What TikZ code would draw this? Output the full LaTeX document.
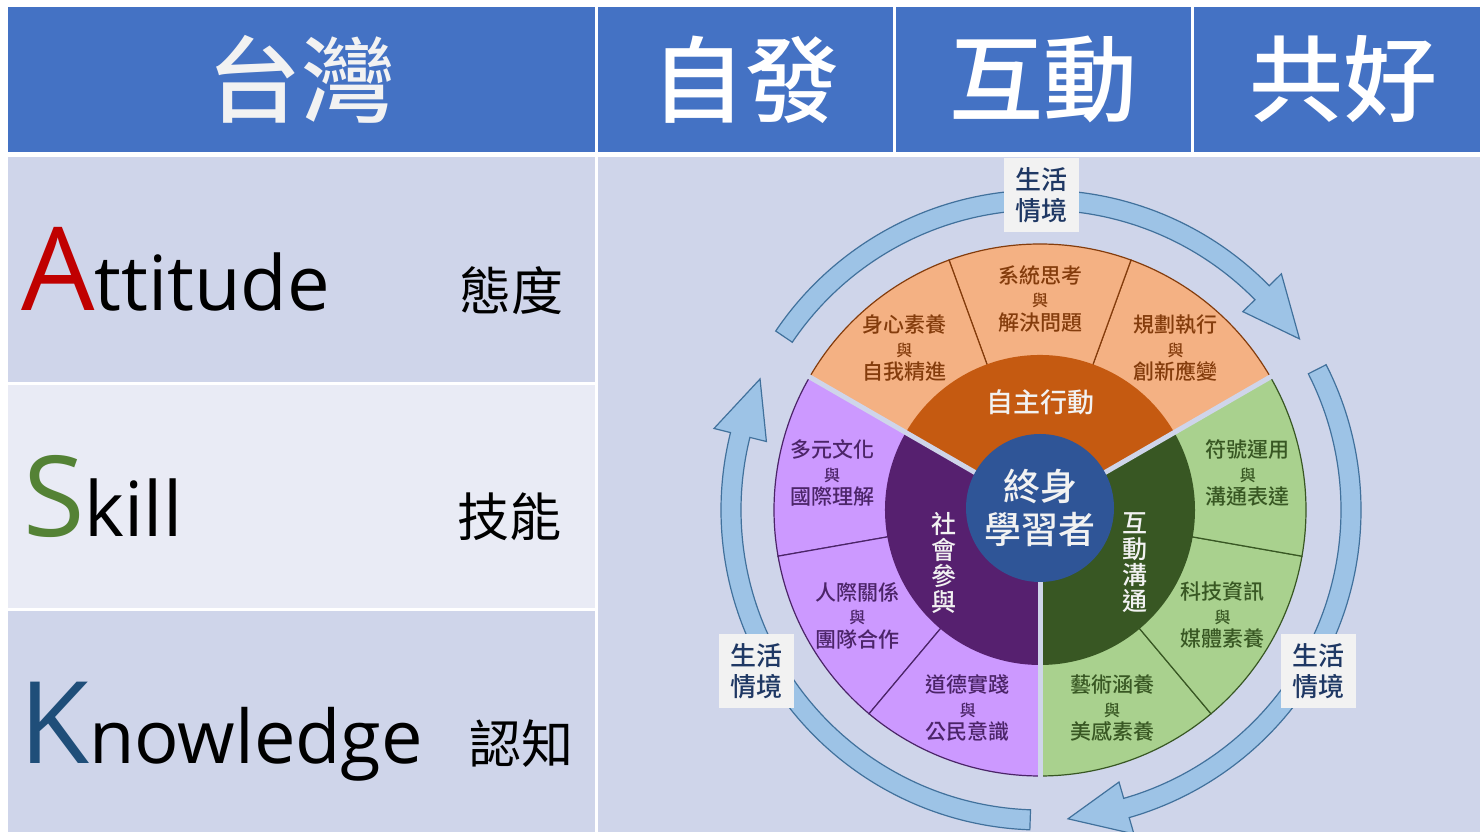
\documentclass[tikz,border=0pt]{standalone}
\usepackage{fontspec}
\usepackage{tikz}
\setmainfont{Open Sans}
\newfontfamily\cjk{Noto Sans CJK TC}
\newfontfamily\cjkmed{Noto Sans CJK TC Medium}
\definecolor{head}{HTML}{4472C4}
\definecolor{rowdark}{HTML}{CFD5EA}
\definecolor{rowlight}{HTML}{E9EBF5}
\definecolor{arrowfill}{HTML}{9DC3E6}
\definecolor{arrowline}{HTML}{41719C}
\definecolor{orangeout}{HTML}{F4B183}
\definecolor{orangein}{HTML}{C55A11}
\definecolor{orangetxt}{HTML}{843C0C}
\definecolor{purpleout}{HTML}{CC99FF}
\definecolor{purplein}{HTML}{56206F}
\definecolor{purpletxt}{HTML}{4B2468}
\definecolor{greenout}{HTML}{A9D18E}
\definecolor{greenin}{HTML}{385723}
\definecolor{greentxt}{HTML}{385723}
\definecolor{core}{HTML}{2F5597}
\definecolor{navy}{HTML}{1F3864}
\definecolor{boxfill}{HTML}{F2F2F2}
\definecolor{aRed}{HTML}{C00000}
\definecolor{sGreen}{HTML}{548235}
\definecolor{kBlue}{HTML}{1F4E79}
\tikzstyle{headcell}=[fill=head, text=white, minimum height=145, inner sep=0, font=\cjkmed\fontsize{94}{94}\selectfont]
\tikzstyle{zhword}=[inner sep=0, font=\cjk\fontsize{52}{52}\selectfont]
\tikzstyle{life}=[fill=boxfill, text=navy, minimum width=75, minimum height=74, inner sep=0, align=center, font=\cjkmed\fontsize{26}{31}\selectfont]
\tikzstyle{outer}=[align=center, inner sep=0, font=\cjkmed\fontsize{21}{23.5}\selectfont]
\tikzstyle{inner}=[align=center, inner sep=0, text=boxfill, font=\cjkmed\fontsize{25}{26}\selectfont]
\tikzstyle{ring arrow}=[fill=arrowfill, draw=arrowline, line width=1.2pt, line join=miter]

\begin{document}
\begin{tikzpicture}[x=1pt, y=1pt]
\clip (0,0) rectangle (1480,832);
\fill[white] (0,0) rectangle (1480,832);
\node[headcell, minimum width=587, text=boxfill] (taiwan) at (301.5,752.5) {台灣};
\node[headcell, minimum width=295] (spont) at (745.5,752.5) {自發};
\node[headcell, minimum width=295] (interact) at (1043.5,752.5) {互動};
\node[headcell, minimum width=298] (common) at (1343,752.5) {共好};
\fill[rowdark] (8,450) rectangle (595,675);
\fill[rowlight] (8,224) rectangle (595,447);
\fill[rowdark] (8,0) rectangle (595,221);
\fill[rowdark] (598,0) rectangle (1480,675);
\node[anchor=base west, inner sep=0] (attitude) at (21,521) {\fontsize{116}{116}\selectfont\color{aRed}A\color{black}\fontsize{76}{76}\selectfont ttitude};
\node[anchor=base west, inner sep=0] (skill) at (23,295) {\fontsize{112}{112}\selectfont\color{sGreen}S\color{black}\fontsize{76}{76}\selectfont kill};
\node[anchor=base west, inner sep=0] (knowledge) at (19,68) {\fontsize{114}{114}\selectfont\color{kBlue}K\color{black}\fontsize{74}{74}\selectfont nowledge};
\node[zhword] (attitude-zh) at (511,541.5) {態度};
\node[zhword] (skill-zh) at (509.5,315.5) {技能};
\node[zhword] (knowledge-zh) at (521,88) {認知};
\begin{scope}[shift={(1041,322)}]
  \foreach \tailang/\tipang in {146/33.5, 27/-85, 268/155}{
    \pgfmathsetmacro\baseang{\tipang+11}
    \draw[ring arrow] (\tailang:300) arc[start angle=\tailang, end angle=\baseang, radius=300] -- (\baseang:283) -- (\tipang:310) -- (\baseang:337) -- (\baseang:320) arc[start angle=\baseang, end angle=\tailang, radius=320] -- cycle;
  }
\end{scope}
\node[life] (life-top) at (1041.5,636.5) {生活\\情境};
\node[life] (life-left) at (756.5,161) {生活\\情境};
\node[life] (life-right) at (1318.5,161) {生活\\情境};
\begin{scope}[shift={(1040,322)}]
  \foreach \startang/\fc/\dc in {30/orangeout/orangetxt, 150/purpleout/purpletxt, 270/greenout/greentxt}{
    \foreach \k in {0,1,2}{
      \pgfmathsetmacro\sa{\startang+40*\k}
      \pgfmathsetmacro\ea{\sa+40}
      \draw[fill=\fc, draw=\dc, line width=1.2pt] (0,0) -- (\sa:266) arc[start angle=\sa, end angle=\ea, radius=266] -- cycle;
    }
  }
  \fill[orangein] (0,0) -- (30:155) arc[start angle=30, end angle=150, radius=155] -- cycle;
  \fill[purplein] (0,0) -- (150:155) arc[start angle=150, end angle=270, radius=155] -- cycle;
  \fill[greenin] (0,0) -- (270:155) arc[start angle=270, end angle=390, radius=155] -- cycle;
  \foreach \a in {30,150,270}
    \draw[rowdark, line width=5pt] (0,0) -- (\a:272);
  \node[circle, fill=core, minimum size=148, inner sep=0, align=center, text=boxfill, font=\cjkmed\fontsize{37}{43}\selectfont] (learner) at (0,2) {終身\\學習者};
  \node[inner, font=\cjkmed\fontsize{27}{27}\selectfont] (selfaction) at (90:108) {自主行動};
  \node[inner] (social) at (209:110) {社\\會\\參\\與};
  \node[inner] (communicate) at (-29:109) {互\\動\\溝\\通};
  \foreach \ang/\lineone/\linetwo/\col in {90/系統思考/解決問題/orangetxt, 130/身心素養/自我精進/orangetxt, 50/規劃執行/創新應變/orangetxt, 170/多元文化/國際理解/purpletxt, 210/人際關係/團隊合作/purpletxt, 250/道德實踐/公民意識/purpletxt, 10/符號運用/溝通表達/greentxt, -30/科技資訊/媒體素養/greentxt, -70/藝術涵養/美感素養/greentxt}
    \node[outer, text=\col] (seg\ang) at (\ang:211) {\lineone\\{\fontsize{16}{23.5}\selectfont 與}\\\linetwo};
\end{scope}
\end{tikzpicture}
\end{document}
